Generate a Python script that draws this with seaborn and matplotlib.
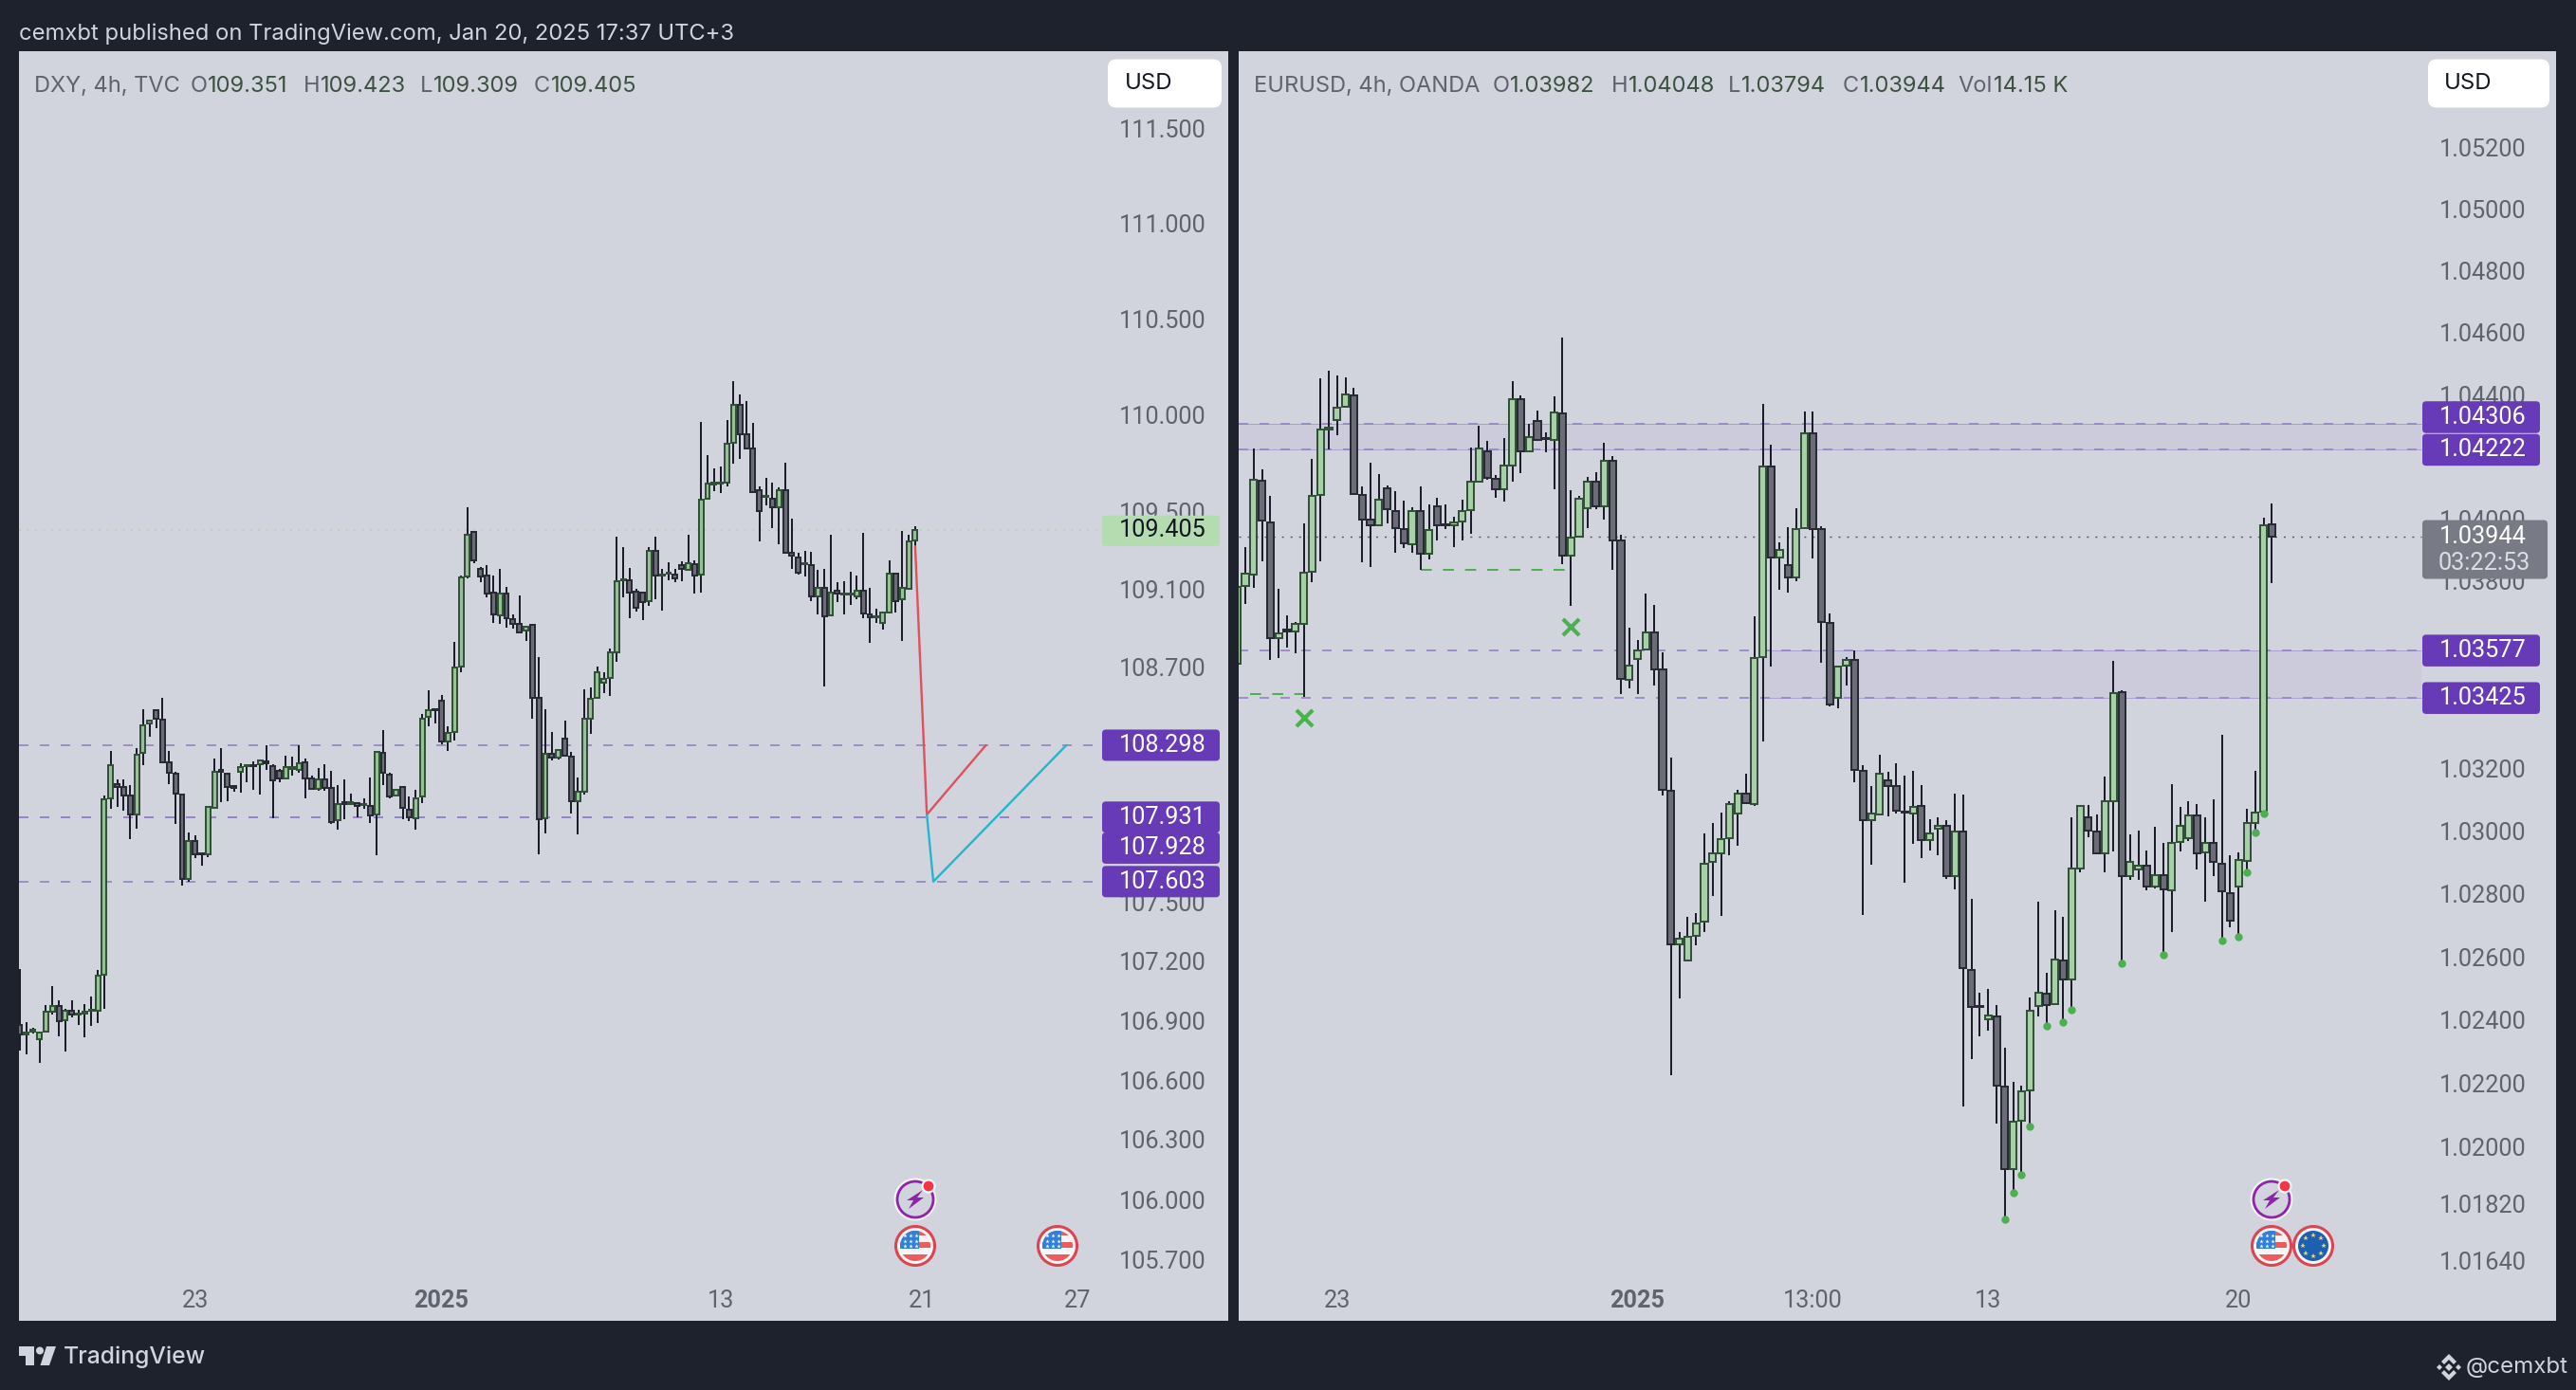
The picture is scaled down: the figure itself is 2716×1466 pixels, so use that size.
"""
DXY and EURUSD 4h candles, side by side, in the TradingView look.
"""

import matplotlib
matplotlib.use("Agg")
import matplotlib.pyplot as plt
import numpy as np
import seaborn as sns
from matplotlib.patches import Circle, FancyBboxPatch, Polygon, Rectangle

WIDTH, HEIGHT = 2716, 1466
DPI = 200

DXY_OPEN = [
    106.878, 106.83, 106.846, 106.804, 106.843, 106.942, 106.972, 106.902, 106.947, 106.932,
    106.937, 106.947, 106.947, 107.130, 108.029, 108.098, 108.083, 108.039, 107.945, 108.258,
    108.409, 108.476, 108.429, 108.212, 108.152, 108.044, 107.616, 107.811, 107.745, 107.742,
    107.979, 108.170, 108.152, 108.088, 108.160, 108.189, 108.194, 108.199, 108.216, 108.192,
    108.167, 108.130, 108.177, 108.172, 108.212, 108.128, 108.076, 108.125, 108.081, 107.915,
    108.007, 107.999, 108.002, 107.994, 107.989, 107.945, 108.261, 108.150, 108.039, 108.086,
    107.967, 107.927, 108.034, 108.441, 108.483, 108.525, 108.315, 108.367, 108.701, 109.165,
    109.392, 109.202, 109.167, 109.079, 108.962, 109.074, 108.945, 108.919, 108.884, 108.914,
    108.542, 107.924, 108.253, 108.237, 108.333, 108.242, 108.010, 108.060, 108.434, 108.540,
    108.620, 108.642, 108.774, 109.146, 109.146, 109.085, 109.079, 109.036, 109.297, 109.169,
    109.180, 109.176, 109.222, 109.200, 109.226, 109.172, 109.565, 109.640, 109.642, 109.649,
    109.856, 110.050, 109.901, 109.824, 109.608, 109.574, 109.567, 109.522, 109.608, 109.286,
    109.263, 109.228, 109.222, 109.061, 109.107, 108.964, 109.090, 109.070, 109.070, 109.064,
    109.092, 108.969, 108.953, 108.925, 108.979, 109.178, 109.048, 109.103, 109.351,
]
DXY_HIGH = [
    107.162, 106.89, 106.865, 106.846, 106.977, 107.075, 107.001, 106.957, 107.001, 106.952,
    106.981, 107.021, 107.154, 108.039, 108.271, 108.123, 108.125, 108.093, 108.281, 108.483,
    108.422, 108.483, 108.540, 108.268, 108.162, 108.051, 107.851, 107.839, 107.745, 107.989,
    108.231, 108.281, 108.157, 108.088, 108.207, 108.194, 108.216, 108.221, 108.298, 108.199,
    108.179, 108.246, 108.241, 108.298, 108.229, 108.142, 108.182, 108.199, 108.167, 108.093,
    108.125, 108.049, 108.002, 108.029, 108.133, 108.268, 108.377, 108.155, 108.076, 108.088,
    108.034, 108.068, 108.459, 108.577, 108.483, 108.557, 108.394, 108.829, 109.170, 109.521,
    109.40, 109.213, 109.222, 109.167, 109.204, 109.111, 108.971, 109.068, 108.910, 108.919,
    108.752, 108.484, 108.367, 108.279, 108.426, 108.265, 108.134, 108.586, 108.596, 108.702,
    108.670, 108.795, 109.371, 109.315, 109.208, 109.102, 109.088, 109.315, 109.371, 109.204,
    109.237, 109.204, 109.240, 109.379, 109.245, 109.965, 109.792, 109.725, 109.734, 109.975,
    110.176, 110.106, 110.072, 109.960, 109.631, 109.674, 109.649, 109.623, 109.753, 109.461,
    109.284, 109.295, 109.293, 109.200, 109.202, 109.379, 109.133, 109.139, 109.191, 109.167,
    109.388, 109.105, 108.999, 108.984, 109.245, 109.185, 109.400, 109.379, 109.423,
]
DXY_LOW = [
    106.749, 106.73, 106.833, 106.688, 106.838, 106.932, 106.818, 106.744, 106.917, 106.878,
    106.814, 106.873, 106.885, 106.957, 107.974, 107.984, 107.965, 107.821, 107.871, 108.194,
    108.342, 108.384, 108.204, 108.098, 107.895, 107.584, 107.604, 107.722, 107.683, 107.725,
    107.974, 108.007, 108.014, 108.061, 108.058, 108.108, 108.068, 108.044, 108.172, 107.927,
    108.108, 108.125, 108.142, 108.157, 108.029, 108.071, 108.063, 108.063, 107.895, 107.866,
    107.920, 107.997, 107.932, 107.974, 107.903, 107.737, 108.093, 108.026, 108.034, 107.920,
    107.910, 107.866, 108.002, 108.394, 108.409, 108.305, 108.268, 108.320, 108.671, 109.155,
    109.232, 109.133, 109.055, 108.925, 108.921, 108.903, 108.897, 108.873, 108.832, 108.436,
    107.744, 107.846, 108.218, 108.227, 108.244, 107.948, 107.842, 108.045, 108.358, 108.538,
    108.566, 108.549, 108.726, 109.059, 108.949, 108.984, 108.940, 109.012, 109.046, 108.988,
    109.144, 109.133, 109.139, 109.194, 109.077, 109.083, 109.561, 109.606, 109.595, 109.631,
    109.749, 109.772, 109.820, 109.599, 109.345, 109.533, 109.414, 109.332, 109.284, 109.204,
    109.176, 109.163, 109.036, 108.971, 108.601, 108.962, 109.031, 108.971, 109.018, 109.046,
    108.949, 108.823, 108.925, 108.892, 108.975, 108.981, 108.832, 109.101, 109.309,
]
DXY_CLOSE = [
    106.828, 106.84, 106.853, 106.838, 106.942, 106.972, 106.898, 106.947, 106.930, 106.937,
    106.945, 106.952, 107.125, 108.024, 108.197, 108.086, 108.039, 107.945, 108.249, 108.402,
    108.422, 108.434, 108.212, 108.155, 108.049, 107.616, 107.811, 107.742, 107.740, 107.982,
    108.162, 108.162, 108.083, 108.078, 108.184, 108.194, 108.189, 108.221, 108.204, 108.120,
    108.128, 108.187, 108.187, 108.207, 108.130, 108.076, 108.125, 108.081, 107.905, 107.999,
    107.999, 108.007, 107.989, 107.999, 107.940, 108.266, 108.155, 108.034, 108.068, 107.977,
    107.930, 108.029, 108.434, 108.478, 108.476, 108.315, 108.362, 108.696, 109.158, 109.377,
    109.245, 109.163, 109.074, 108.968, 109.074, 108.951, 108.919, 108.878, 108.904, 108.542,
    107.920, 108.255, 108.237, 108.274, 108.244, 108.010, 108.060, 108.432, 108.538, 108.674,
    108.640, 108.772, 109.142, 109.150, 109.083, 109.005, 109.031, 109.297, 109.167, 109.172,
    109.185, 109.154, 109.204, 109.231, 109.171, 109.563, 109.644, 109.648, 109.648, 109.852,
    110.050, 109.901, 109.824, 109.602, 109.503, 109.580, 109.522, 109.608, 109.284, 109.273,
    109.185, 109.233, 109.061, 109.105, 108.960, 109.083, 109.076, 109.074, 109.074, 109.092,
    108.975, 108.955, 108.957, 108.977, 109.178, 109.038, 109.107, 109.344, 109.405,
]

EUR_OPEN = [
    1.03536, 1.03785, 1.03822, 1.04124, 1.03987, 1.03618, 1.03645, 1.03637, 1.03663, 1.03831,
    1.04076, 1.04287, 1.04318, 1.04362, 1.04398, 1.04077, 1.03996, 1.03978, 1.04097, 1.04026,
    1.03968, 1.03919, 1.04026, 1.03887, 1.04041, 1.03982, 1.03978, 1.03992, 1.04029, 1.04121,
    1.04216, 1.04130, 1.04096, 1.04172, 1.04387, 1.04216, 1.04315, 1.04261, 1.04255, 1.04339,
    1.03883, 1.03943, 1.04035, 1.04119, 1.04041, 1.04186, 1.03929, 1.03483, 1.03550, 1.03581,
    1.03635, 1.03516, 1.03128, 1.02641, 1.02590, 1.02668, 1.02711, 1.02901, 1.02930, 1.02979,
    1.03057, 1.03121, 1.03086, 1.03556, 1.04168, 1.03877, 1.03851, 1.03812, 1.03970, 1.04276,
    1.03966, 1.03667, 1.03425, 1.03530, 1.03548, 1.03191, 1.03036, 1.03053, 1.03162, 1.03143,
    1.03062, 1.03057, 1.03079, 1.02973, 1.03008, 1.03018, 1.02858, 1.02998, 1.02560, 1.02444,
    1.02403, 1.02413, 1.02190, 1.01929, 1.02081, 1.02178, 1.02446, 1.02484, 1.02451, 1.02589,
    1.02529, 1.02880, 1.03044, 1.03000, 1.02930, 1.03096, 1.03444, 1.02856, 1.02877, 1.02890,
    1.02825, 1.02859, 1.02813, 1.02967, 1.02977, 1.03051, 1.02932, 1.02963, 1.02897, 1.02804,
    1.02825, 1.02906, 1.03027, 1.03062, 1.03982,
]
EUR_HIGH = [
    1.03793, 1.03909, 1.04225, 1.04158, 1.04073, 1.03774, 1.03691, 1.03668, 1.03984, 1.04194,
    1.04452, 1.04477, 1.04462, 1.04455, 1.04423, 1.04104, 1.04182, 1.04143, 1.04107, 1.04090,
    1.04057, 1.04038, 1.04104, 1.04045, 1.04068, 1.04045, 1.04006, 1.04060, 1.04228, 1.04300,
    1.04252, 1.04141, 1.04261, 1.04443, 1.04399, 1.04306, 1.04350, 1.04278, 1.04396, 1.04585,
    1.04091, 1.04073, 1.04135, 1.04150, 1.04244, 1.04202, 1.03948, 1.03651, 1.03610, 1.03760,
    1.03724, 1.03572, 1.03235, 1.02678, 1.02727, 1.02739, 1.02994, 1.03027, 1.03058, 1.03096,
    1.03131, 1.03183, 1.03688, 1.04371, 1.04239, 1.03924, 1.03973, 1.04033, 1.04345, 1.04345,
    1.03977, 1.03696, 1.03530, 1.03556, 1.03577, 1.03212, 1.03145, 1.03243, 1.03188, 1.03216,
    1.03178, 1.03191, 1.03146, 1.03039, 1.03044, 1.03036, 1.03121, 1.03117, 1.02785, 1.02486,
    1.02499, 1.02448, 1.02311, 1.02205, 1.02192, 1.02472, 1.02775, 1.02551, 1.02747, 1.02728,
    1.03044, 1.03082, 1.03084, 1.03053, 1.03174, 1.03544, 1.03451, 1.02989, 1.03001, 1.02939,
    1.03013, 1.02963, 1.03150, 1.03077, 1.03096, 1.03088, 1.03043, 1.03103, 1.03307, 1.02922,
    1.02932, 1.03070, 1.03191, 1.04005, 1.04048,
]
EUR_LOW = [
    1.03512, 1.03727, 1.03777, 1.03863, 1.03548, 1.03554, 1.03587, 1.03567, 1.03430, 1.03797,
    1.03863, 1.04224, 1.04270, 1.04360, 1.04076, 1.03859, 1.03844, 1.03975, 1.03984, 1.03891,
    1.03906, 1.03892, 1.03836, 1.03869, 1.03929, 1.03968, 1.03908, 1.03929, 1.03953, 1.04119,
    1.04126, 1.04069, 1.04056, 1.04121, 1.04147, 1.04216, 1.04255, 1.04214, 1.04096, 1.03853,
    1.03719, 1.03943, 1.03971, 1.04031, 1.03998, 1.03836, 1.03439, 1.03456, 1.03439, 1.03581,
    1.03466, 1.03113, 1.02226, 1.02468, 1.02590, 1.02636, 1.02680, 1.02794, 1.02730, 1.02923,
    1.02954, 1.03087, 1.03079, 1.03287, 1.03527, 1.03772, 1.03763, 1.03800, 1.03968, 1.03872,
    1.03539, 1.03397, 1.03392, 1.03464, 1.03155, 1.02733, 1.02892, 1.03053, 1.03048, 1.03057,
    1.02837, 1.02961, 1.02913, 1.02939, 1.02922, 1.02849, 1.02814, 1.02127, 1.02275, 1.02347,
    1.02365, 1.02072, 1.01771, 1.01856, 1.01913, 1.02065, 1.02411, 1.02384, 1.02448, 1.02394,
    1.02435, 1.02868, 1.02980, 1.02925, 1.02868, 1.02935, 1.02582, 1.02844, 1.02845, 1.02811,
    1.02818, 1.02608, 1.02678, 1.02935, 1.02970, 1.02877, 1.02775, 1.02856, 1.02653, 1.02693,
    1.02664, 1.02871, 1.02996, 1.03058, 1.03794,
]
EUR_CLOSE = [
    1.03780, 1.03824, 1.04126, 1.03993, 1.03617, 1.03632, 1.03637, 1.03663, 1.03828, 1.04074,
    1.04287, 1.04295, 1.04359, 1.04401, 1.04080, 1.03998, 1.03978, 1.04063, 1.04031, 1.03971,
    1.03922, 1.04026, 1.03889, 1.03965, 1.03978, 1.03979, 1.03989, 1.04026, 1.04118, 1.04227,
    1.04132, 1.04096, 1.04171, 1.04387, 1.04217, 1.04262, 1.04255, 1.04258, 1.04342, 1.03883,
    1.03940, 1.04066, 1.04119, 1.04041, 1.04186, 1.03931, 1.03486, 1.03528, 1.03576, 1.03635,
    1.03517, 1.03133, 1.02641, 1.02657, 1.02663, 1.02705, 1.02895, 1.02928, 1.02975, 1.03088,
    1.03121, 1.03089, 1.03553, 1.04168, 1.03877, 1.03901, 1.03812, 1.03966, 1.04276, 1.03968,
    1.03670, 1.03403, 1.03525, 1.03548, 1.03195, 1.03036, 1.03055, 1.03183, 1.03145, 1.03065,
    1.03058, 1.03077, 1.02973, 1.02992, 1.03018, 1.02856, 1.02998, 1.02565, 1.02442, 1.02441,
    1.02416, 1.02192, 1.01929, 1.02079, 1.02174, 1.02429, 1.02487, 1.02448, 1.02593, 1.02529,
    1.02880, 1.03079, 1.03003, 1.02928, 1.03095, 1.03441, 1.02858, 1.02901, 1.02890, 1.02825,
    1.02859, 1.02816, 1.02963, 1.03018, 1.03050, 1.02930, 1.02963, 1.02901, 1.02809, 1.02716,
    1.02908, 1.03025, 1.03060, 1.03980, 1.03944,
]
EUR_DOT_BARS = [92, 93, 94, 95, 97, 99, 100, 106, 111, 118, 120, 121, 122, 123]
EUR_X_BARS = [8, 40]
EUR_X_PRICES = [1.03362, 1.03652]

DXY_TICKS = [111.5, 111.0, 110.5, 110.0, 109.5, 109.1, 108.7, 107.5, 107.2,
             106.9, 106.6, 106.3, 106.0, 105.7]
EUR_TICKS = [1.052, 1.050, 1.048, 1.046, 1.044, 1.040, 1.038, 1.032, 1.030,
             1.028, 1.026, 1.024, 1.022, 1.020, 1.0182, 1.0164]
DXY_XTICKS = [27, 65, 108, 139, 163]
DXY_XLABELS = ["23", "2025", "13", "21", "27"]
EUR_XTICKS = [12, 48, 69, 90, 120]
EUR_XLABELS = ["23", "2025", "13:00", "13", "20"]

DXY_LEVELS = [108.298, 107.931, 107.928, 107.603]
EUR_LEVELS = [1.04306, 1.04222, 1.03577, 1.03425]
DXY_LAST = 109.405
EUR_LAST = 1.03944

RED_PATH_BARS = [138, 139.8, 148.9]
RED_PATH_PRICES = [109.32, 107.944, 108.298]
CYAN_PATH_BARS = [139.8, 140.8, 161.3]
CYAN_PATH_PRICES = [107.944, 107.603, 108.298]

DARK = "#1e222d"
PANE = "#d1d4dc"
TICK = "#5f636e"
PURPLE = "#673ab7"
LEVEL = "#9482c6"
UP = "#a9cfa8"
UP_EDGE = "#33503a"
DOWN = "#6c6c78"
DOWN_EDGE = "#282a34"
WICK = "#1b1d28"
GREEN = "#4caf50"
NUMBER_FONT = ["Roboto", "DejaVu Sans"]
NUMBER_SIZE = 9.1


def draw_candles(ax, opens, highs, lows, closes, width, up_fill):
    o, h, l, c = (np.array(v) for v in (opens, highs, lows, closes))
    x = np.arange(len(o))
    up = c >= o
    ax.vlines(x, l, h, colors=WICK, linewidth=0.72, zorder=3)
    ax.bar(x[up], (c - o)[up], bottom=o[up], width=width, color=up_fill,
           edgecolor=UP_EDGE, linewidth=0.72, zorder=4)
    ax.bar(x[~up], (c - o)[~up], bottom=o[~up], width=width, color=DOWN,
           edgecolor=DOWN_EDGE, linewidth=0.72, zorder=4)


def set_pane(ax, xlim, ylim, yticks, ylabels, pad_px, xticks, xlabels):
    ax.set_facecolor(PANE)
    ax.set_yscale("log")
    ax.set_xlim(*xlim)
    ax.set_ylim(*ylim)
    ax.yaxis.tick_right()
    ax.set_yticks(yticks, labels=ylabels)
    ax.minorticks_off()
    ax.set_xticks(xticks, labels=xlabels)
    ax.tick_params(axis="y", length=0, pad=-pad_px * 72 / DPI, labelsize=NUMBER_SIZE, labelcolor=TICK)
    ax.tick_params(axis="x", length=0, pad=-33 * 72 / DPI, labelsize=NUMBER_SIZE, labelcolor=TICK)
    for label in ax.get_yticklabels() + ax.get_xticklabels():
        label.set_fontfamily(NUMBER_FONT)
        if label.get_text() == "2025":
            label.set_fontweight("bold")
    ax.grid(False)
    ax.set_xlabel("")
    ax.set_ylabel("")
    for spine in ax.spines.values():
        spine.set_visible(False)


def level_lines(ax, prices, x0, x1):
    for price in prices:
        ax.hlines(price, x0, x1, colors=LEVEL, linewidth=0.6,
                  linestyles=(0, (6, 7.2)), zorder=2)


def to_px(ax, price):
    return HEIGHT - ax.transData.transform((0, price))[1]


def box(over, x0, x1, yc, h, color, radius=4, zorder=6):
    over.add_patch(FancyBboxPatch((x0, yc - h / 2), x1 - x0, h,
                                  boxstyle=f"round,pad=0,rounding_size={radius}",
                                  facecolor=color, edgecolor="none", zorder=zorder))


def bolt_icon(over, x, y):
    over.add_patch(Circle((x, y), 22.5, facecolor="#f4f4f8", edgecolor="none", zorder=7))
    over.add_patch(Circle((x, y), 19, facecolor=PANE, edgecolor="#8e24aa", linewidth=1.0, zorder=7))
    bolt = [(x + 8, y - 10), (x - 9, y + 1), (x - 2, y + 1), (x - 7, y + 10), (x + 9, y - 2), (x + 2, y - 2)]
    over.add_patch(Polygon(bolt, closed=True, facecolor="#8e24aa", edgecolor="none", zorder=8))
    over.add_patch(Circle((x + 14, y - 14), 6.5, facecolor="#f23645", edgecolor="#f4f4f8", linewidth=0.8, zorder=8))


def us_icon(over, x, y):
    over.add_patch(Circle((x, y), 20.5, facecolor="#f6f6f8", edgecolor="#dc4450", linewidth=1.1, zorder=7))
    clip = Circle((x, y), 16, transform=over.transData)
    for top, height in ((y - 16, 5), (y - 4, 6), (y + 9, 7)):
        stripe = Rectangle((x - 16, top), 32, height, facecolor="#ee5b5b", edgecolor="none", zorder=8)
        over.add_patch(stripe)
        stripe.set_clip_path(clip)
    canton = Rectangle((x - 16, y - 16), 20, 19, facecolor="#2f80d8", edgecolor="none", zorder=9)
    over.add_patch(canton)
    canton.set_clip_path(clip)
    for dx in (-11, -5, 1):
        for dy in (-11, -5, 0):
            over.plot(x + dx, y + dy, marker="*", ms=1.6, color="white", mew=0, zorder=10)


def eu_icon(over, x, y):
    over.add_patch(Circle((x, y), 20.5, facecolor="#f6f6f8", edgecolor="#dc4450", linewidth=1.1, zorder=7))
    over.add_patch(Circle((x, y), 16, facecolor="#1f5fb0", edgecolor="none", zorder=8))
    for angle in np.arange(0, 360, 45):
        over.plot(x + 11 * np.cos(np.radians(angle)), y + 11 * np.sin(np.radians(angle)),
                  marker="*", ms=2, color="#e6d86a", mew=0, zorder=9)


def binance_mark(over, x, y):
    color = "#d1d4dc"
    for sign in (-1, 1):
        over.add_patch(Polygon([(x - 8, y + sign * 6), (x, y + sign * 14), (x + 8, y + sign * 6),
                                (x + 5, y + sign * 3), (x, y + sign * 8), (x - 5, y + sign * 3)],
                               closed=True, facecolor=color, edgecolor="none"))
        over.add_patch(Polygon([(x + sign * 10, y - 3), (x + sign * 13, y), (x + sign * 10, y + 3),
                                (x + sign * 7, y)], closed=True, facecolor=color, edgecolor="none"))
    over.add_patch(Polygon([(x, y - 4), (x + 4, y), (x, y + 4), (x - 4, y)],
                           closed=True, facecolor=color, edgecolor="none"))


def main():
    sns.set_theme(style="white")
    plt.rcParams["font.family"] = ["Inter", "DejaVu Sans"]

    fig = plt.figure(figsize=(WIDTH / DPI, HEIGHT / DPI), dpi=DPI, facecolor=DARK)
    top, bottom = 54, 1393
    left_ax = fig.add_axes([20 / WIDTH, 1 - bottom / HEIGHT, 1275 / WIDTH, (bottom - top) / HEIGHT])
    right_ax = fig.add_axes([1306 / WIDTH, 1 - bottom / HEIGHT, 1389 / WIDTH, (bottom - top) / HEIGHT])

    set_pane(left_ax, (-0.146, 186.26), (105.395, 111.905), DXY_TICKS,
             [f"{t:.3f}" for t in DXY_TICKS], 115,
             DXY_XTICKS, DXY_XLABELS)
    set_pane(right_ax, (0.2045, 158.04), (1.01452, 1.05515), EUR_TICKS,
             [f"{t:.5f}" for t in EUR_TICKS], 123,
             EUR_XTICKS, EUR_XLABELS)

    # left pane
    level_lines(left_ax, DXY_LEVELS, -0.146, 167)
    left_ax.hlines(DXY_LAST, -0.146, 167, colors="#bfcdbb", linewidth=0.55,
                   linestyles=(0, (1.5, 4)), zorder=2)
    draw_candles(left_ax, DXY_OPEN, DXY_HIGH, DXY_LOW, DXY_CLOSE, 0.72, "#98c097")
    sns.lineplot(x=RED_PATH_BARS, y=RED_PATH_PRICES, ax=left_ax, color="#e0505e", linewidth=0.85,
                 estimator=None, sort=False, legend=False, zorder=5)
    sns.lineplot(x=CYAN_PATH_BARS, y=CYAN_PATH_PRICES, ax=left_ax, color="#26b5cc", linewidth=0.85,
                 estimator=None, sort=False, legend=False, zorder=5)

    # right pane
    right_ax.fill_between([0.2045, 141.9], EUR_LEVELS[1], EUR_LEVELS[0], color="#cbcbdb", linewidth=0, zorder=1)
    right_ax.fill_between([62.8, 141.9], EUR_LEVELS[3], EUR_LEVELS[2], color="#cbcbdb", linewidth=0, zorder=1)
    level_lines(right_ax, EUR_LEVELS, 0.2045, 141.9)
    right_ax.hlines(EUR_LEVELS[:2], 0.2045, 141.9, colors=LEVEL, linewidth=0.3, alpha=0.7, zorder=2)
    right_ax.hlines(EUR_LEVELS[2:], 62.8, 141.9, colors=LEVEL, linewidth=0.3, alpha=0.7, zorder=2)
    right_ax.hlines(EUR_LAST, 0.2045, 141.9, colors="#55585f", linewidth=0.5,
                    linestyles=(0, (1.5, 5)), zorder=2)
    right_ax.hlines(1.03438, 1.6, 7.9, colors=GREEN, linewidth=0.7, linestyles=(0, (6, 6)), zorder=2)
    right_ax.hlines(1.03836, 22, 40, colors=GREEN, linewidth=0.7, linestyles=(0, (6, 6)), zorder=2)
    draw_candles(right_ax, EUR_OPEN, EUR_HIGH, EUR_LOW, EUR_CLOSE, 0.8, UP)
    sns.scatterplot(x=EUR_DOT_BARS, y=[EUR_LOW[i] - 0.00001 for i in EUR_DOT_BARS], ax=right_ax,
                    color=GREEN, s=9, linewidth=0, legend=False, zorder=5)
    sns.scatterplot(x=EUR_X_BARS, y=EUR_X_PRICES, ax=right_ax, color=GREEN, marker="x", s=38,
                    linewidth=1.5, legend=False, zorder=5)

    # everything outside the data goes on a page overlay in pixels
    over = fig.add_axes([0, 0, 1, 1], facecolor="none")
    over.set_xlim(0, WIDTH)
    over.set_ylim(HEIGHT, 0)
    over.axis("off")

    over.text(20, 36, "cemxbt published on TradingView.com, Jan 20, 2025 17:37 UTC+3",
              color="#d1d4dc", fontsize=8.55, va="center")

    head = dict(fontsize=8.5, va="center", zorder=8)
    hy = 91
    over.text(36, hy, "DXY, 4h, TVC", color=TICK, **head)
    for letter, value, x0 in (("O", "109.351", 201), ("H", "109.423", 320),
                              ("L", "109.309", 443), ("C", "109.405", 563)):
        over.text(x0, hy, letter, color=TICK, **head)
        over.text(x0 + (14 if letter == "L" else 18), hy, value, color="#3c5240", **head)
    over.text(1322, hy, "EURUSD, 4h, OANDA", color=TICK, **head)
    for letter, value, x0 in (("O", "1.03982", 1574), ("H", "1.04048", 1699),
                              ("L", "1.03794", 1822), ("C", "1.03944", 1943)):
        over.text(x0, hy, letter, color=TICK, **head)
        over.text(x0 + (14 if letter == "L" else 18), hy, value, color="#3c5240", **head)
    over.text(2064, hy, "Vol", color=TICK, **head)
    over.text(2102, hy, "14.15 K", color="#3c5240", **head)

    for x0, x1, tc in ((1168, 1288, 1211), (2560, 2688, 2602)):
        box(over, x0, x1, 88, 51, "white", radius=9)
        over.text(tc, 88, "USD", color="#131722", fontsize=8.6, ha="center", va="center", zorder=8)

    # price labels
    label_style = dict(fontsize=NUMBER_SIZE, family=NUMBER_FONT, va="center", zorder=9)
    x0, x1, tx = 1162, 1286, 1180
    yc = to_px(left_ax, DXY_LAST)
    box(over, x0, x1, yc + 1, 32, "#b5dcb0", radius=3)
    over.text(tx, yc, "109.405", color="#131722", **label_style)
    for price, shift in zip(DXY_LEVELS, (0, 0, 32, 0)):
        yc = to_px(left_ax, price) + shift
        box(over, x0, x1, yc, 33, PURPLE)
        over.text(tx, yc, f"{price:.3f}", color="white", **label_style)

    x0, x1, tx = 2554, 2678, 2572
    for price, shift in zip(EUR_LEVELS, (-7, 0, 0, 0)):
        yc = to_px(right_ax, price) + shift
        box(over, x0, x1, yc, 33.5, PURPLE)
        over.text(tx, yc, f"{price:.5f}", color="white", **label_style)
    yc = to_px(right_ax, EUR_LAST)
    box(over, x0, 2686, yc + 14, 62, "#787b86")
    over.text(tx, yc, "1.03944", color="white", **label_style)
    over.text(tx - 1, yc + 28, "03:22:53", color="#dcdde2", **label_style)

    # event icons
    bolt_icon(over, 965, 1265)
    us_icon(over, 965, 1314)
    us_icon(over, 1115, 1314)
    bolt_icon(over, 2395, 1265)
    us_icon(over, 2395, 1314)
    eu_icon(over, 2439, 1314)

    # footer
    over.add_patch(Polygon([(20, 1420), (36, 1420), (36, 1440), (27, 1440), (27, 1430), (20, 1430)],
                           closed=True, facecolor="#d1d4dc", edgecolor="none"))
    over.add_patch(Circle((42, 1424.5), 4, facecolor="#d1d4dc", edgecolor="none"))
    over.add_patch(Polygon([(49, 1420), (59, 1420), (52, 1440), (42.5, 1440)],
                           closed=True, facecolor="#d1d4dc", edgecolor="none"))
    over.text(67, 1431, "TradingView", color="#d1d4dc", fontsize=8.9, fontweight="medium", va="center")
    binance_mark(over, 2582, 1442)
    over.text(2600, 1442, "@cemxbt", color="#d1d4dc", fontsize=8.7, va="center")

    fig.savefig("out.png", dpi=DPI, facecolor=DARK)
    plt.close(fig)


if __name__ == "__main__":
    main()
